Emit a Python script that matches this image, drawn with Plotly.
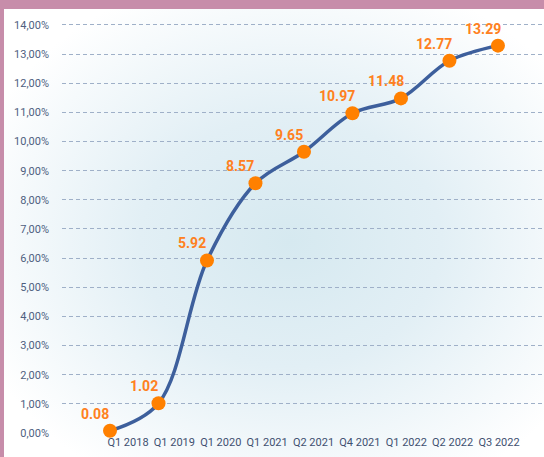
import base64
import plotly.graph_objects as go

quarters = ["Q1 2018", "Q1 2019", "Q1 2020", "Q1 2021", "Q2 2021",
            "Q4 2021", "Q1 2022", "Q2 2022", "Q3 2022"]
values = [0.08, 1.02, 5.92, 8.57, 9.65, 10.97, 11.48, 12.77, 13.29]
value_labels = ["0.08", "1.02", "5.92", "8.57", "9.65", "10.97", "11.48", "12.77", "13.29"]
y_ticks = list(range(0, 15))
y_tick_labels = ["0,00%", "1,00%", "2,00%", "3,00%", "4,00%", "5,00%", "6,00%", "7,00%",
                 "8,00%", "9,00%", "10,00%", "11,00%", "12,00%", "13,00%", "14,00%"]

idx = list(range(len(quarters)))

svg = """<svg xmlns='http://www.w3.org/2000/svg' width='540' height='448' viewBox='0 0 540 448'>
<defs><radialGradient id='g' cx='0.53' cy='0.52' r='0.62' fx='0.53' fy='0.52'>
<stop offset='0' stop-color='#d6e9f0'/>
<stop offset='0.45' stop-color='#e2eff5'/>
<stop offset='1' stop-color='#ffffff'/>
</radialGradient></defs>
<rect width='540' height='448' fill='url(#g)'/></svg>"""
src = "data:image/svg+xml;base64," + base64.b64encode(svg.encode()).decode()

fig = go.Figure()
fig.add_trace(go.Scatter(
    x=idx, y=values, mode="lines+markers",
    line=dict(color="#3d5f9c", width=3.5, shape="spline", smoothing=1.0),
    marker=dict(color="#ff8000", size=14),
    cliponaxis=False, hoverinfo="skip", showlegend=False,
))
fig.add_trace(go.Scatter(
    x=idx, y=values, xaxis="x2", mode="none", hoverinfo="skip", showlegend=False,
))

for i, v, t in zip(idx, values, value_labels):
    fig.add_annotation(x=i, y=v, xref="x", yref="y", text=f"<b>{t}</b>",
                       showarrow=False, xshift=-15, yshift=17,
                       font=dict(family="Roboto", size=14, color="#ff8020"))

W, H = 544, 457
L, R, T, B = 62, 0, 20, 23
pw, ph = W - L - R, H - T - B

fig.update_layout(
    width=W, height=H,
    margin=dict(l=L, r=R, t=T, b=B, autoexpand=False),
    paper_bgcolor="#c78daa",
    plot_bgcolor="rgba(0,0,0,0)",
    font=dict(family="Roboto", size=11, color="#4f5f7f"),
    xaxis=dict(range=[-0.99, 8.95], showgrid=False, zeroline=False,
               showticklabels=False, showline=False, automargin=False),
    xaxis2=dict(overlaying="x", side="bottom", range=[-1.423, 8.97],
                tickmode="array", tickvals=idx, ticktext=quarters,
                showgrid=False, zeroline=False, showline=False, ticks="",
                automargin=False,
                tickfont=dict(family="Roboto", size=11, color="#3f5070")),
    yaxis=dict(range=[-0.034, 14.17], tickmode="array", tickvals=y_ticks,
               ticktext=y_tick_labels, automargin=False,
               showgrid=True, gridcolor="#9fb0c8", griddash="4px,3px", gridwidth=1.2,
               zeroline=False, showline=False, ticks="", ticklabelstandoff=12,
               tickfont=dict(family="Roboto", size=11, color="#4f5f7f")),
    images=[dict(source=src, xref="paper", yref="paper",
                 x=(4 - L) / pw, y=(T + ph - 9) / ph,
                 sizex=(W - 4) / pw, sizey=(H - 9) / ph,
                 xanchor="left", yanchor="top", sizing="stretch", layer="below")],
)

fig.write_html("out.html", config={"displayModeBar": False},
               post_script="document.body.style.margin='0';document.body.style.overflow='hidden';")
